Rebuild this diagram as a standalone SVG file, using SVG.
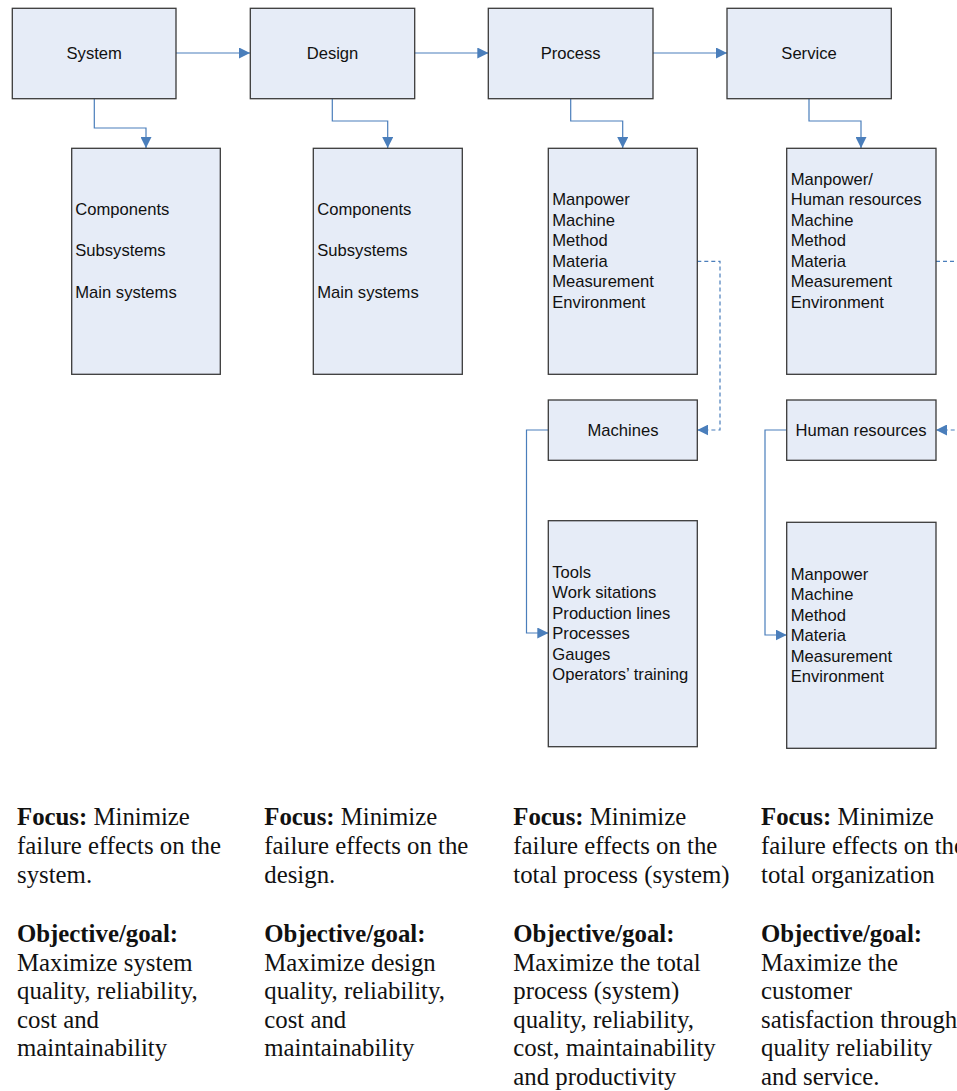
<svg xmlns="http://www.w3.org/2000/svg" width="957" height="1091" viewBox="0 0 957 1091">
  <defs>
    <marker id="arrow" viewBox="0 0 10 10" refX="10" refY="5" markerWidth="11" markerHeight="11" markerUnits="userSpaceOnUse" orient="auto">
      <path d="M0,0 L10,5 L0,10 z" fill="#4A7EBB"/>
    </marker>
    <style>
      .box { fill: #E6ECF7; stroke: #3A3A3A; stroke-width: 1.3; }
      .lbl { font-family: "Liberation Sans", Arial, sans-serif; font-size: 16.6px; fill: #111; }
      .mid { text-anchor: middle; }
      .conn { fill: none; stroke: #4A7EBB; stroke-width: 1.2; }
      .dash { stroke-dasharray: 4 3; }
      .note { font-family: "Liberation Serif", "Times New Roman", serif; font-size: 24.8px; fill: #111; }
      .note .b { font-weight: bold; }
    </style>
  </defs>

  <rect width="957" height="1091" fill="#FFFFFF"/>

  <!-- connectors -->
  <g id="connectors">
    <!-- main chain -->
    <path class="conn" d="M176,53 H250" marker-end="url(#arrow)"/>
    <path class="conn" d="M414.7,53 H488.3" marker-end="url(#arrow)"/>
    <path class="conn" d="M653,53 H727" marker-end="url(#arrow)"/>
    <!-- level drops -->
    <path class="conn" d="M94.3,98.7 V128 H146 V148" marker-end="url(#arrow)"/>
    <path class="conn" d="M332.3,98.7 V121 H387.7 V148" marker-end="url(#arrow)"/>
    <path class="conn" d="M570.7,98.7 V121 H622.7 V148" marker-end="url(#arrow)"/>
    <path class="conn" d="M809,98.7 V121 H861 V148" marker-end="url(#arrow)"/>
    <!-- dashed links to detail boxes -->
    <path class="conn dash" d="M697.3,261.3 H720 V430 H697.3" marker-end="url(#arrow)"/>
    <path class="conn dash" d="M936,261.3 H959 V430 H936" marker-end="url(#arrow)"/>
    <!-- detail to list -->
    <path class="conn" d="M548.3,430 H526.5 V633 H548.3" marker-end="url(#arrow)"/>
    <path class="conn" d="M786.7,430 H765 V635 H786.7" marker-end="url(#arrow)"/>
  </g>

  <!-- top row -->
  <g id="system">
    <rect class="box" x="12.3" y="8.3" width="163.7" height="90.4"/>
    <text class="lbl mid" x="94.2" y="59">System</text>
  </g>
  <g id="design">
    <rect class="box" x="250.3" y="8.3" width="164.4" height="90.4"/>
    <text class="lbl mid" x="332.5" y="59">Design</text>
  </g>
  <g id="process">
    <rect class="box" x="488.3" y="8.3" width="164.7" height="90.4"/>
    <text class="lbl mid" x="570.7" y="59">Process</text>
  </g>
  <g id="service">
    <rect class="box" x="727" y="8.3" width="164.3" height="90.4"/>
    <text class="lbl mid" x="809" y="59">Service</text>
  </g>

  <!-- second row -->
  <g id="system-levels">
    <rect class="box" x="71.7" y="148.3" width="148.6" height="226"/>
    <text class="lbl" x="75.3" y="215">Components</text>
    <text class="lbl" x="75.3" y="256">Subsystems</text>
    <text class="lbl" x="75.3" y="297.5">Main systems</text>
  </g>
  <g id="design-levels">
    <rect class="box" x="313.3" y="148.3" width="149" height="226"/>
    <text class="lbl" x="317.3" y="215">Components</text>
    <text class="lbl" x="317.3" y="256">Subsystems</text>
    <text class="lbl" x="317.3" y="297.5">Main systems</text>
  </g>
  <g id="process-factors">
    <rect class="box" x="548.3" y="148.3" width="149" height="226"/>
    <text class="lbl" x="552.3" y="205">Manpower</text>
    <text class="lbl" x="552.3" y="225.5">Machine</text>
    <text class="lbl" x="552.3" y="246">Method</text>
    <text class="lbl" x="552.3" y="266.5">Materia</text>
    <text class="lbl" x="552.3" y="287">Measurement</text>
    <text class="lbl" x="552.3" y="307.5">Environment</text>
  </g>
  <g id="service-factors">
    <rect class="box" x="786.7" y="148.3" width="149.3" height="226"/>
    <text class="lbl" x="790.7" y="184.5">Manpower/</text>
    <text class="lbl" x="790.7" y="205">Human resources</text>
    <text class="lbl" x="790.7" y="225.5">Machine</text>
    <text class="lbl" x="790.7" y="246">Method</text>
    <text class="lbl" x="790.7" y="266.5">Materia</text>
    <text class="lbl" x="790.7" y="287">Measurement</text>
    <text class="lbl" x="790.7" y="307.5">Environment</text>
  </g>

  <!-- detail boxes -->
  <g id="machines">
    <rect class="box" x="548.3" y="400" width="149" height="60.3"/>
    <text class="lbl mid" x="623" y="436">Machines</text>
  </g>
  <g id="human-resources">
    <rect class="box" x="786.7" y="400" width="149.3" height="60.3"/>
    <text class="lbl mid" x="861" y="436">Human resources</text>
  </g>

  <!-- lists -->
  <g id="machine-items">
    <rect class="box" x="548.3" y="520.7" width="149" height="226"/>
    <text class="lbl" x="552.3" y="577.5">Tools</text>
    <text class="lbl" x="552.3" y="598">Work sitations</text>
    <text class="lbl" x="552.3" y="618.5">Production lines</text>
    <text class="lbl" x="552.3" y="639">Processes</text>
    <text class="lbl" x="552.3" y="659.5">Gauges</text>
    <text class="lbl" x="552.3" y="680">Operators’ training</text>
  </g>
  <g id="hr-items">
    <rect class="box" x="786.7" y="522.3" width="149.3" height="226"/>
    <text class="lbl" x="790.7" y="579.5">Manpower</text>
    <text class="lbl" x="790.7" y="600">Machine</text>
    <text class="lbl" x="790.7" y="620.5">Method</text>
    <text class="lbl" x="790.7" y="641">Materia</text>
    <text class="lbl" x="790.7" y="661.5">Measurement</text>
    <text class="lbl" x="790.7" y="682">Environment</text>
  </g>

  <!-- focus / objective notes -->
  <g id="note-system" class="note">
    <text x="17" y="825"><tspan class="b">Focus:</tspan> Minimize</text>
    <text x="17" y="854">failure effects on the</text>
    <text x="17" y="883">system.</text>
    <text x="17" y="942" class="b">Objective/goal:</text>
    <text x="17" y="970.5">Maximize system</text>
    <text x="17" y="999">quality, reliability,</text>
    <text x="17" y="1027.5">cost and</text>
    <text x="17" y="1056">maintainability</text>
  </g>
  <g id="note-design" class="note">
    <text x="264.3" y="825"><tspan class="b">Focus:</tspan> Minimize</text>
    <text x="264.3" y="854">failure effects on the</text>
    <text x="264.3" y="883">design.</text>
    <text x="264.3" y="942" class="b">Objective/goal:</text>
    <text x="264.3" y="970.5">Maximize design</text>
    <text x="264.3" y="999">quality, reliability,</text>
    <text x="264.3" y="1027.5">cost and</text>
    <text x="264.3" y="1056">maintainability</text>
  </g>
  <g id="note-process" class="note">
    <text x="513.3" y="825"><tspan class="b">Focus:</tspan> Minimize</text>
    <text x="513.3" y="854">failure effects on the</text>
    <text x="513.3" y="883">total process (system)</text>
    <text x="513.3" y="942" class="b">Objective/goal:</text>
    <text x="513.3" y="970.5">Maximize the total</text>
    <text x="513.3" y="999">process (system)</text>
    <text x="513.3" y="1027.5">quality, reliability,</text>
    <text x="513.3" y="1056">cost, maintainability</text>
    <text x="513.3" y="1084.5">and productivity</text>
  </g>
  <g id="note-service" class="note">
    <text x="761" y="825"><tspan class="b">Focus:</tspan> Minimize</text>
    <text x="761" y="854">failure effects on the</text>
    <text x="761" y="883">total organization</text>
    <text x="761" y="942" class="b">Objective/goal:</text>
    <text x="761" y="970.5">Maximize the</text>
    <text x="761" y="999">customer</text>
    <text x="761" y="1027.5">satisfaction through</text>
    <text x="761" y="1056">quality reliability</text>
    <text x="761" y="1084.5">and service.</text>
  </g>
</svg>
